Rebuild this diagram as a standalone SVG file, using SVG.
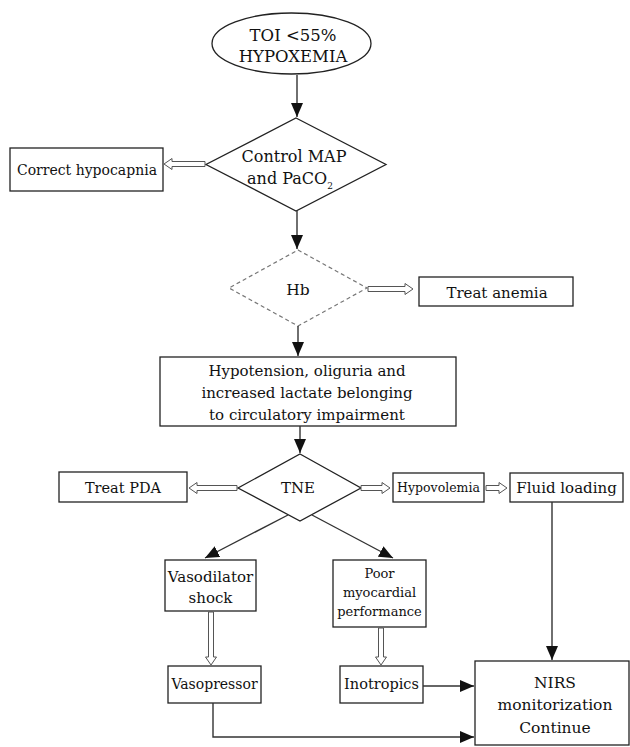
<svg xmlns="http://www.w3.org/2000/svg" width="630" height="747" viewBox="0 0 630 747">
<defs>
<marker id="ah" markerWidth="14" markerHeight="12" refX="14" refY="6" orient="auto" markerUnits="userSpaceOnUse"><path d="M0,0 L14,6 L0,12 z" fill="#111"/></marker>
<style>
.n{fill:#fff;stroke:#222;stroke-width:1.3}
.d{fill:#fff;stroke:#777;stroke-width:1.2;stroke-dasharray:4 3}
.t{font-family:"DejaVu Serif","Liberation Serif",serif;fill:#111;text-anchor:middle}
.c{fill:none;stroke:#333;stroke-width:1.4}
.h{fill:#fff;stroke:#555;stroke-width:1}
</style>
</defs>
<rect width="630" height="747" fill="#fff"/>
<g id="start"><ellipse class="n" cx="291.5" cy="43.5" rx="79.5" ry="30.5"/><text class="t" x="293" y="41" font-size="16.5">TOI &lt;55%</text><text class="t" x="293" y="62" font-size="16.5">HYPOXEMIA</text></g>
<g id="control"><polygon class="n" points="296,118 386,164.5 296,211 206,164.5"/><text class="t" x="294" y="162" font-size="16">Control MAP</text><text class="t" x="290" y="184" font-size="16">and PaCO<tspan font-size="9" dy="5">2</tspan></text></g>
<g id="hypocapnia"><rect class="n" x="10" y="148" width="153" height="43"/><text class="t" x="87" y="175" font-size="14">Correct hypocapnia</text></g>
<g id="hb"><polygon class="d" points="298,250 367,288 298,326 229,288"/><text class="t" x="298" y="295" font-size="15.5">Hb</text></g>
<g id="anemia"><rect class="n" x="419" y="277" width="154" height="29"/><text class="t" x="497" y="298" font-size="15">Treat anemia</text></g>
<g id="hypotension"><rect class="n" x="160" y="357" width="296" height="69"/><text class="t" x="307" y="376" font-size="15">Hypotension, oliguria and</text><text class="t" x="307" y="398" font-size="15">increased lactate belonging</text><text class="t" x="307" y="420" font-size="15">to circulatory impairment</text></g>
<g id="tne"><polygon class="n" points="300,454 361,488 300,521 238,488"/><text class="t" x="298" y="493" font-size="15">TNE</text></g>
<g id="pda"><rect class="n" x="59" y="472" width="128" height="30"/><text class="t" x="123" y="493" font-size="14.5">Treat PDA</text></g>
<g id="hypovolemia"><rect class="n" x="393" y="473" width="91" height="29"/><text class="t" x="438.5" y="492" font-size="12.5">Hypovolemia</text></g>
<g id="fluid"><rect class="n" x="510" y="473" width="113" height="29"/><text class="t" x="566.5" y="493" font-size="15">Fluid loading</text></g>
<g id="vasodilator"><rect class="n" x="165" y="560" width="91" height="51"/><text class="t" x="210.5" y="582" font-size="15">Vasodilator</text><text class="t" x="210.5" y="603" font-size="15">shock</text></g>
<g id="poor"><rect class="n" x="333" y="560" width="93" height="67"/><text class="t" x="379.5" y="578" font-size="13">Poor</text><text class="t" x="379.5" y="597" font-size="13">myocardial</text><text class="t" x="379.5" y="616" font-size="13">performance</text></g>
<g id="vasopressor"><rect class="n" x="168" y="666" width="93" height="37"/><text class="t" x="214.5" y="689" font-size="14">Vasopressor</text></g>
<g id="inotropics"><rect class="n" x="340" y="666" width="83" height="37"/><text class="t" x="381.5" y="689" font-size="14.5">Inotropics</text></g>
<g id="nirs"><rect class="n" x="475" y="661" width="154" height="84"/><text class="t" x="555" y="688" font-size="15.5">NIRS</text><text class="t" x="555" y="710" font-size="15.5">monitorization</text><text class="t" x="555" y="733" font-size="15.5">Continue</text></g>
<g id="connectors">
<line class="c" x1="297" y1="75" x2="297" y2="117" marker-end="url(#ah)"/>
<line class="c" x1="297" y1="211" x2="297" y2="249" marker-end="url(#ah)"/>
<line class="c" x1="298" y1="326" x2="298" y2="356" marker-end="url(#ah)"/>
<line class="c" x1="300" y1="426" x2="300" y2="453" marker-end="url(#ah)"/>
<line class="c" x1="288" y1="515" x2="205" y2="558" marker-end="url(#ah)"/>
<line class="c" x1="312" y1="515" x2="393" y2="558" marker-end="url(#ah)"/>
<line class="c" x1="552" y1="502" x2="552" y2="660" marker-end="url(#ah)"/>
<line class="c" x1="423" y1="686" x2="474" y2="686" marker-end="url(#ah)"/>
<polyline class="c" points="213,703 213,737 474,737" marker-end="url(#ah)"/>
<polygon class="h" points="205,161.5 172,161.5 172,158.5 164,164 172,169.5 172,166.5 205,166.5"/>
<polygon class="h" points="368,286.5 405,286.5 405,283.5 413,289 405,294.5 405,291.5 368,291.5"/>
<polygon class="h" points="237,485.5 197,485.5 197,482.5 189,488 197,493.5 197,490.5 237,490.5"/>
<polygon class="h" points="361,485.5 382,485.5 382,482.5 390,488 382,493.5 382,490.5 361,490.5"/>
<polygon class="h" points="486,485.5 499,485.5 499,482.5 507,488 499,493.5 499,490.5 486,490.5"/>
<polygon class="h" points="208.5,612 208.5,657 205.5,657 211,665 216.5,657 213.5,657 213.5,612"/>
<polygon class="h" points="378.5,628 378.5,657 375.5,657 381,665 386.5,657 383.5,657 383.5,628"/>
</g>
</svg>
